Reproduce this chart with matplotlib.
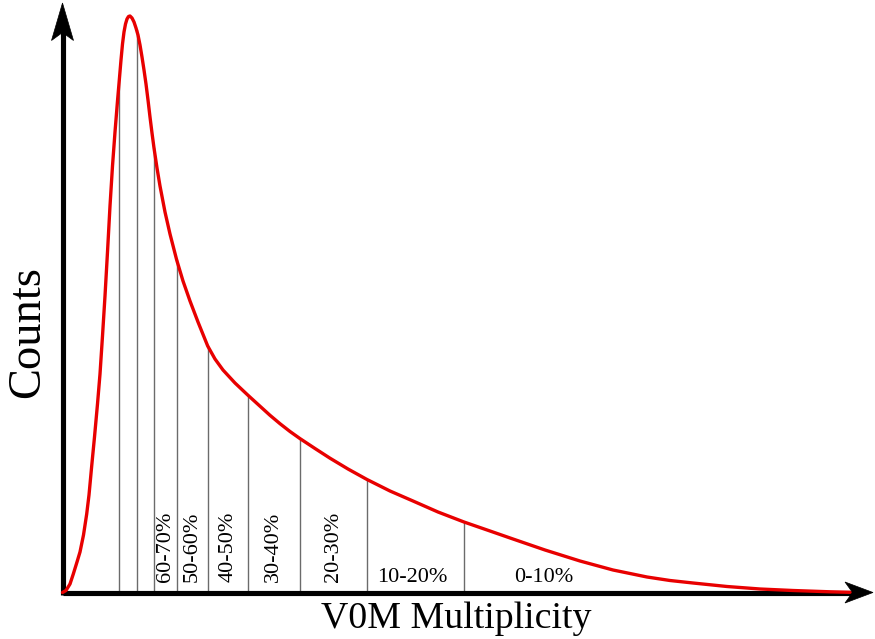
import numpy as np
import matplotlib
matplotlib.use("Agg")
import matplotlib.pyplot as plt
from matplotlib.patches import Polygon

plt.rcParams["font.family"] = ["Liberation Serif", "DejaVu Serif"]

# Multiplicity distribution (arbitrary units: multiplicity, counts)
multiplicity = [0, 3.5, 7.5, 10.8, 14.5, 17.5, 21, 24.2, 26.5, 29.2, 32, 35,
                37.5, 40, 42.5, 45, 47.5, 50, 52.5, 55, 56.8, 58.5, 60, 61.5,
                63, 64.5, 66, 67.5, 69.5, 71.5, 73.5, 75.5, 77.5, 79.5, 81.5,
                83.5, 85.5, 87.5, 89.5, 91.5, 94.5, 97.5, 102.5, 107.5, 114.2,
                120.5, 127.5, 135.5, 145.2, 152.5, 160.5, 172.5, 185.2, 197.5,
                207.5, 217.5, 227.5, 237.5, 252.5, 267.5, 285.5, 304.5, 327.5,
                350.5, 375.5, 401.5, 427.5, 450.5, 482.5, 517.5, 550.5, 584.5,
                607.5, 630.5, 664.5, 697.5, 730.5, 767.5, 787.5]
counts = [0, 2, 8.5, 18.5, 30.5, 40.5, 57.5, 78.5, 97.5, 126.5, 155.5, 188.5,
          218.5, 256.5, 296.5, 340.5, 386.5, 426.5, 460.5, 491.5, 512.5,
          532.5, 548.5, 560.5, 568.5, 573.5, 576, 576.5, 574.5, 570.5, 564.5,
          557.5, 547.5, 535.5, 522.5, 508.5, 492.5, 475.5, 459.5, 444.5,
          424.5, 406.5, 380.5, 358.5, 332.5, 311.5, 291.5, 270.5, 246.5,
          233.5, 222.5, 209.5, 197.5, 186.3, 177.2, 168.8, 161.0, 153.9, 144,
          134.3, 123.5, 113, 101.5, 91.5, 80.5, 70.5, 61.5, 53.5, 42.5,
          31.5, 22.5, 15.5, 12, 9.5, 6, 3.5, 2, 0.7, 0.2]

# Centrality class boundaries along multiplicity
boundaries = [56.8, 74.0, 91.5, 114.2, 145.2, 185.2, 237.5, 304.8, 401.5]

# Class labels and their positions (multiplicity centre)
rot_labels = ["60-70%", "50-60%", "40-50%", "30-40%", "20-30%"]
rot_label_x = [103.0, 130.0, 165.5, 211.0, 271.0]
flat_labels = ["10-20%", "0-10%"]
flat_label_x = [349.5, 481.5]

fig = plt.figure(figsize=(8.75, 6.39), dpi=100)
ax = fig.add_axes([0, 0, 1, 1])
ax.set_xlim(-62.5, 812.5)
ax.set_ylim(-46.5, 592.5)
ax.axis("off")

# Boundary lines up to the curve
tops = np.interp(boundaries, multiplicity, counts)
for bx, top in zip(boundaries, tops):
    ax.plot([bx, bx], [0, top], color="0.42", lw=1.0, zorder=2)

# Distribution curve
ax.plot(multiplicity, counts, color="#e80000", lw=2.4, zorder=5,
        solid_joinstyle="round", solid_capstyle="round")

# Axes with stealth arrowheads
lw_axis = 3.7
ax.plot([0, 795], [0, 0], color="black", lw=lw_axis, zorder=4, solid_capstyle="butt")
ax.plot([0, 0], [-2.5, 565], color="black", lw=lw_axis, zorder=4, solid_capstyle="butt")
ax.add_patch(Polygon([[810.5, 0], [782.5, 10.5], [790.0, 0], [782.5, -10.5]],
                     closed=True, facecolor="black", edgecolor="black",
                     lw=0.5, zorder=4, clip_on=False))
ax.add_patch(Polygon([[0, 589.5], [11.0, 552.0], [0, 560.0], [-11.0, 552.0]],
                     closed=True, facecolor="black", edgecolor="black",
                     lw=0.5, zorder=4, clip_on=False))

# Class labels
for lab, lx in zip(rot_labels, rot_label_x):
    ax.text(lx, 10.5, lab, rotation=90, ha="center", va="bottom",
            fontsize=16, zorder=6)
for lab, lx in zip(flat_labels, flat_label_x):
    ax.text(lx, 10.5, lab, ha="center", va="baseline", fontsize=16, zorder=6)

# Axis titles
ax.text(393.5, -35.5, "V0M Multiplicity", ha="center", va="baseline", fontsize=27.3)
ax.text(-34.5, 260.0, "Counts", rotation=90, ha="center", va="center", fontsize=33.5)

fig.savefig("out.png", dpi=100)
